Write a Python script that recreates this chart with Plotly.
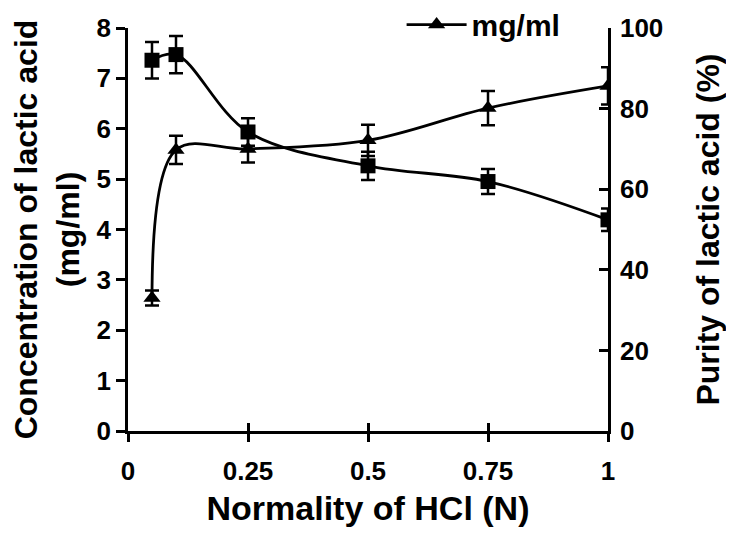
import plotly.graph_objects as go

normality = [0.05, 0.1, 0.25, 0.5, 0.75, 1.0]
conc_mg_ml = [2.64, 5.58, 5.60, 5.77, 6.41, 6.85]
conc_err = [0.15, 0.28, 0.27, 0.31, 0.34, 0.37]
purity_pct = [92.0, 93.4, 74.2, 65.8, 61.9, 52.4]
purity_err = [4.5, 4.6, 3.4, 3.5, 3.1, 2.8]

x_ticks = [0, 0.25, 0.5, 0.75, 1]
x_ticklabels = ["0", "0.25", "0.5", "0.75", "1"]
y1_ticks = [0, 1, 2, 3, 4, 5, 6, 7, 8]
y2_ticks = [0, 20, 40, 60, 80, 100]

FONT = "Liberation Sans, Arial, sans-serif"
tickfont = dict(family=FONT, size=26, color="black", weight="bold")
ytitlefont = dict(family=FONT, size=32, color="black", weight="bold")
xtitlefont = dict(family=FONT, size=34, color="black", weight="bold")

fig = go.Figure()

fig.add_trace(go.Scatter(
    x=normality, y=purity_pct, yaxis="y2", mode="lines+markers",
    line=dict(color="black", width=2.8, shape="spline", smoothing=1),
    marker=dict(symbol="square", size=15, color="black"),
    error_y=dict(type="data", array=purity_err, color="black", thickness=2.5, width=7),
    showlegend=False, name="%",
))

fig.add_trace(go.Scatter(
    x=normality, y=conc_mg_ml, yaxis="y", mode="lines+markers",
    line=dict(color="black", width=2.8, shape="spline", smoothing=1),
    marker=dict(symbol="triangle-up", size=15, color="black"),
    error_y=dict(type="data", array=conc_err, color="black", thickness=2.5, width=7),
    name="mg/ml", showlegend=True,
))

fig.add_trace(go.Scatter(x=[0], y=[0], xaxis="x2", mode="markers",
                         marker=dict(opacity=0), showlegend=False, hoverinfo="skip"))

fig.update_layout(
    width=734, height=539,
    margin=dict(l=120, r=134, t=20, b=116, autoexpand=False),
    plot_bgcolor="white", paper_bgcolor="white",
    font=dict(family=FONT, color="black"),
    xaxis=dict(
        range=[0, 1], tickvals=x_ticks, ticktext=x_ticklabels,
        ticks="outside", ticklen=8, tickwidth=2.5, tickcolor="black",
        showline=True, linecolor="black", linewidth=2.5, showgrid=False, zeroline=False,
        tickfont=tickfont, automargin=False, ticklabelstandoff=7,
        title=dict(text="Normality of HCl (N)", font=xtitlefont, standoff=12),
    ),
    xaxis2=dict(
        range=[0, 1], tickvals=x_ticks, overlaying="x", side="bottom",
        ticks="inside", ticklen=8, tickwidth=2.5, tickcolor="black",
        showticklabels=False, showline=False, showgrid=False, zeroline=False,
    ),
    yaxis=dict(
        range=[0, 8], tickvals=y1_ticks,
        ticks="outside", ticklen=9, tickwidth=2.5, tickcolor="black",
        showline=True, linecolor="black", linewidth=2.5, showgrid=False, zeroline=False,
        tickfont=tickfont, automargin=False,
        title=dict(text="Concentration of lactic acid<br>(mg/ml)", font=ytitlefont, standoff=25),
    ),
    yaxis2=dict(
        range=[0, 100], tickvals=y2_ticks, overlaying="y", side="right",
        ticks="inside", ticklen=9, tickwidth=2.5, tickcolor="black",
        showline=True, linecolor="black", linewidth=2.5, showgrid=False, zeroline=False,
        tickfont=tickfont, automargin=False, ticklabelstandoff=4,
        title=dict(text="Purity of lactic acid (%)", font=ytitlefont, standoff=35),
    ),
    legend=dict(
        x=0.57, y=1.073, xanchor="left", yanchor="top", itemwidth=60,
        bgcolor="rgba(0,0,0,0)", font=dict(family=FONT, size=30, color="black", weight="bold"),
    ),
    showlegend=True,
)

fig.write_html("out.html")
